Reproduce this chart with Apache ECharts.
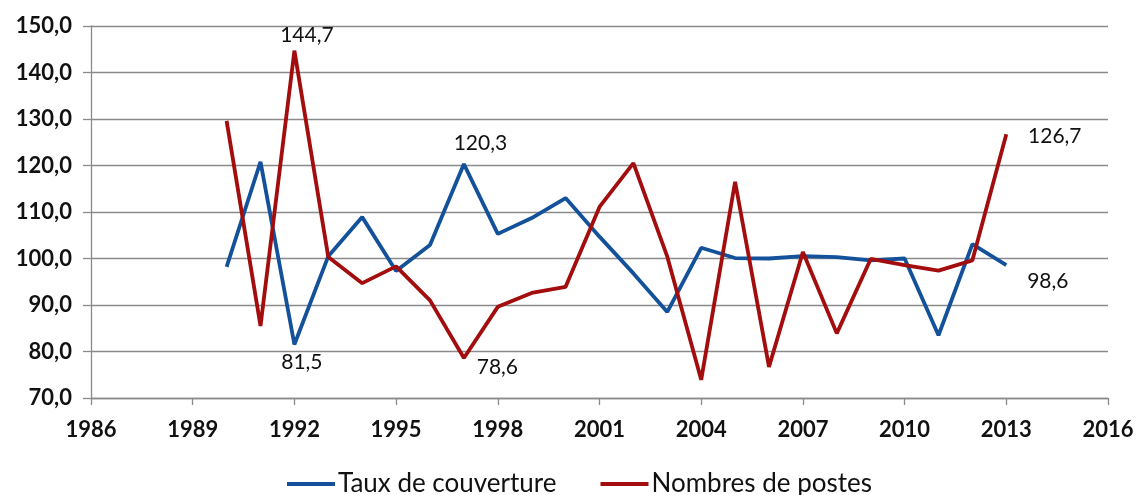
<!DOCTYPE html>
<html>
<head>
<meta charset="utf-8">
<script src="https://cdn.jsdelivr.net/npm/echarts@6/dist/echarts.min.js"></script>
<style>
  html, body { margin: 0; padding: 0; background: #ffffff; }
  #chart { width: 1137px; height: 495px; }
</style>
</head>
<body>
<div id="chart"></div>
<script>
// Years covered by both series
const years = [1990, 1991, 1992, 1993, 1994, 1995, 1996, 1997, 1998, 1999, 2000, 2001,
               2002, 2003, 2004, 2005, 2006, 2007, 2008, 2009, 2010, 2011, 2012, 2013];

// Taux de couverture (%)
const tauxCouverture = [98.2, 120.8, 81.5, 100.5, 108.9, 97.3, 102.9, 120.3, 105.3, 108.7, 113.0, 104.7,
                        96.8, 88.5, 102.3, 100.1, 100.0, 100.5, 100.3, 99.6, 100.0, 83.5, 103.1, 98.6];

// Nombres de postes (indice)
const nombresPostes = [129.6, 85.5, 144.7, 100.3, 94.7, 98.3, 91.0, 78.6, 89.6, 92.6, 93.9, 111.1,
                       120.5, 100.4, 73.9, 116.5, 76.7, 101.4, 83.9, 99.9, 98.6, 97.4, 99.6, 126.7];

const seriesNames = ['Taux de couverture', 'Nombres de postes'];

// Annotated points: series index, year, label centre relative to the point (px)
const annotations = [
  { s: 0, year: 1992, at: [8, 18] },
  { s: 0, year: 1997, at: [17, -20] },
  { s: 0, year: 2013, at: [42, 17] },
  { s: 1, year: 1992, at: [13, -15] },
  { s: 1, year: 1997, at: [34, 10] },
  { s: 1, year: 2013, at: [49, 2] }
];

const fmt = v => v.toFixed(1).replace('.', ',');

function buildData(values, sIdx) {
  return years.map((y, i) => {
    const item = { value: [y, values[i]] };
    const a = annotations.find(n => n.s === sIdx && n.year === y);
    if (a) {
      item.label = {
        show: true,
        position: a.at,
        align: 'center',
        verticalAlign: 'middle',
        formatter: p => fmt(p.value[1]),
        color: '#111111',
        fontFamily: 'Lato',
        fontSize: 21
      };
    }
    return item;
  });
}

const colors = ['#13519b', '#a30d0d'];
const gridColor = '#8a8a8a';

function lineSeries(name, values, idx) {
  return {
    name: name,
    type: 'line',
    data: buildData(values, idx),
    showSymbol: true,
    showAllSymbol: true,
    symbol: 'circle',
    symbolSize: 1,
    itemStyle: { color: 'rgba(0,0,0,0)', borderColor: 'rgba(0,0,0,0)', borderWidth: 0 },
    lineStyle: { width: 3.8, color: colors[idx] },
    label: { show: false },
    labelLayout: { hideOverlap: false },
    z: 3 + idx
  };
}

const chart = echarts.init(document.getElementById('chart'), null, { renderer: 'canvas' });
chart.setOption({
  backgroundColor: '#ffffff',
  animation: false,
  grid: { left: 91, right: 29, top: 26, bottom: 97 },
  legend: {
    left: 282,
    top: 466,
    itemGap: 44,
    itemWidth: 48,
    itemHeight: 4,
    icon: 'rect',
    textStyle: { fontFamily: 'Lato', fontSize: 26, color: '#111111', padding: [0, 0, 0, -2] },
    data: seriesNames.map((n, i) => ({ name: n, itemStyle: { color: colors[i], borderWidth: 0 } }))
  },
  xAxis: {
    type: 'value',
    min: 1986,
    max: 2016,
    interval: 3,
    axisLine: { show: true, lineStyle: { color: gridColor, width: 1.3 } },
    axisTick: { show: true, inside: false, length: 7, lineStyle: { color: gridColor, width: 1.3 } },
    splitLine: { show: false },
    axisLabel: {
      color: '#111111',
      fontFamily: 'Lato',
      fontWeight: 'bold',
      fontSize: 22,
      margin: 21,
      formatter: v => String(v)
    }
  },
  yAxis: {
    type: 'value',
    min: 70,
    max: 150,
    interval: 10,
    axisLine: { show: true, lineStyle: { color: gridColor, width: 1.3 } },
    axisTick: { show: true, inside: false, length: 8, lineStyle: { color: gridColor, width: 1.3 } },
    splitLine: { show: true, lineStyle: { color: gridColor, width: 1.3 } },
    axisLabel: {
      color: '#111111',
      fontFamily: 'Lato',
      fontWeight: 'bold',
      fontSize: 22,
      margin: 19,
      formatter: v => fmt(v)
    }
  },
  series: [
    lineSeries(seriesNames[0], tauxCouverture, 0),
    lineSeries(seriesNames[1], nombresPostes, 1)
  ]
});
</script>
</body>
</html>
